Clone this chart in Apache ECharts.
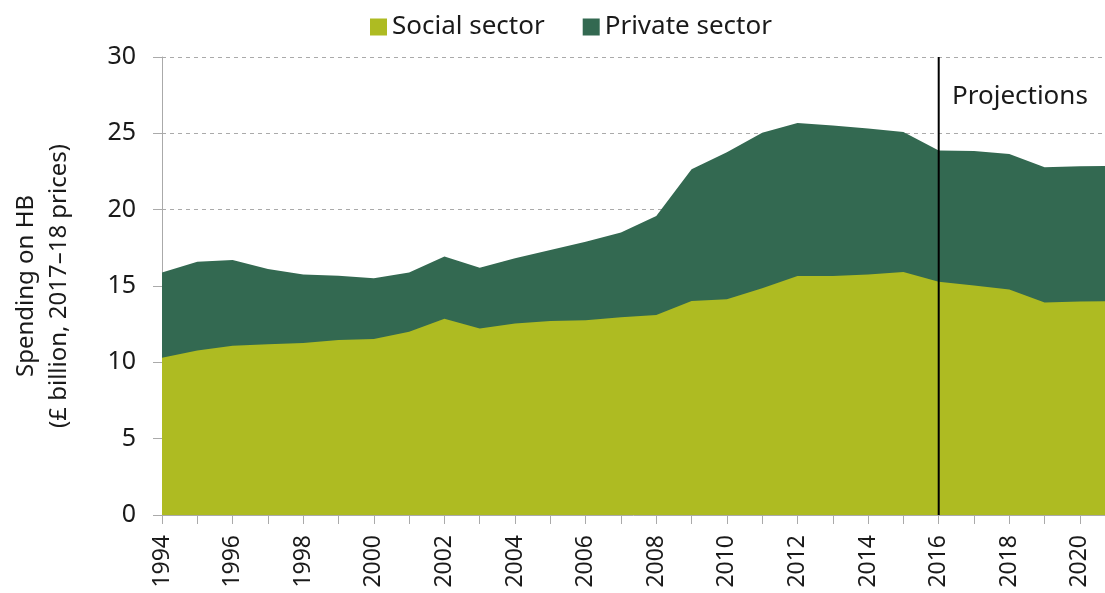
<!DOCTYPE html>
<html>
<head>
<meta charset="utf-8">
<script src="https://cdn.jsdelivr.net/npm/echarts@6/dist/echarts.min.js"></script>
<style>html,body{margin:0;padding:0;background:#fff;}#c{width:1105px;height:593px;}</style>
</head>
<body>
<div id="c"></div>
<script>
const years = [1994,1995,1996,1997,1998,1999,2000,2001,2002,2003,2004,2005,2006,2007,2008,2009,2010,2011,2012,2013,2014,2015,2016,2017,2018,2019,2020,2021];
const socialSector = [10.30,10.78,11.09,11.18,11.26,11.46,11.53,12.01,12.86,12.22,12.55,12.70,12.75,12.95,13.10,14.01,14.14,14.86,15.65,15.65,15.76,15.91,15.28,15.04,14.77,13.92,13.98,14.02];
const privateSector = [5.59,5.81,5.61,4.93,4.50,4.21,3.97,3.88,4.08,3.98,4.26,4.65,5.15,5.55,6.49,8.64,9.62,10.18,10.02,9.86,9.56,9.17,8.59,8.81,8.88,8.86,8.86,8.85];
const projectionYear = 2016;
const yTicks = [0,5,10,15,20,25,30];

// top edge of the private-sector band = social + private
const totalSpending = socialSector.map((v, i) => +(v + privateSector[i]).toFixed(2));

const font = '"Noto Sans", "Open Sans", sans-serif';
const chart = echarts.init(document.getElementById('c'), null, {renderer:'canvas'});
chart.setOption({
  animation: false,
  backgroundColor: '#fff',
  textStyle: {fontFamily: font, color: '#1a1a1a'},
  legend: {
    left: 365, top: 9,
    itemWidth: 17, itemHeight: 17, itemGap: 38,
    icon: 'rect',
    textStyle: {fontFamily: font, fontSize: 26, color: '#1a1a1a'},
    data: ['Social sector', 'Private sector']
  },
  grid: {left: 162, right: 0, top: 57, bottom: 78, containLabel: false, outerBoundsMode: 'none'},
  xAxis: {
    type: 'value', min: 1994, max: 2020.71, interval: 1,
    axisLine: {lineStyle: {color: '#aaaaaa', width: 1}},
    axisTick: {show: true, length: 9, lineStyle: {color: '#aaaaaa'}},
    splitLine: {show: false},
    axisLabel: {
      rotate: 90, margin: 20, fontSize: 23, color: '#1a1a1a', fontFamily: font,
      showMaxLabel: false,
      formatter: function(v){ return (Number.isInteger(v) && v % 2 === 0) ? String(v) : ''; }
    }
  },
  yAxis: {
    type: 'value', min: yTicks[0], max: yTicks[yTicks.length-1], interval: 5,
    name: 'Spending on HB\n(£ billion, 2017–18 prices)',
    nameLocation: 'middle', nameGap: 86, nameRotate: 90,
    nameTextStyle: {fontSize: 24, color: '#1a1a1a', fontFamily: font, lineHeight: 33},
    axisLine: {show: true, lineStyle: {color: '#aaaaaa', width: 1}},
    axisTick: {show: true, length: 9, lineStyle: {color: '#aaaaaa'}},
    splitLine: {show: true, lineStyle: {color: '#aaaaaa', type: [4, 4], width: 1}},
    axisLabel: {margin: 26, fontSize: 25, color: '#1a1a1a', fontFamily: font}
  },
  series: [
    {
      name: 'Private sector', type: 'line',
      data: years.map((y, i) => [y, totalSpending[i]]),
      showSymbol: false,
      lineStyle: {width: 0},
      areaStyle: {color: '#336951', opacity: 1, origin: 'start'},
      itemStyle: {color: '#336951'},
      z: 2
    },
    {
      name: 'Social sector', type: 'line',
      data: years.map((y, i) => [y, socialSector[i]]),
      showSymbol: false,
      lineStyle: {width: 0},
      areaStyle: {color: '#aebb22', opacity: 1, origin: 'start'},
      itemStyle: {color: '#aebb22'},
      z: 3
    },
    {
      name: 'Projections', type: 'line',
      data: [[projectionYear, yTicks[0]], [projectionYear, yTicks[yTicks.length-1]]],
      showSymbol: false, silent: true, z: 5,
      lineStyle: {color: '#000', width: 2},
      itemStyle: {color: '#000'}
    }
  ],
  graphic: [{
    type: 'text', left: 952, top: 84, z: 100,
    style: {text: 'Projections', font: '26px "Noto Sans", sans-serif', fill: '#1a1a1a'}
  }]
});
</script>
</body>
</html>
